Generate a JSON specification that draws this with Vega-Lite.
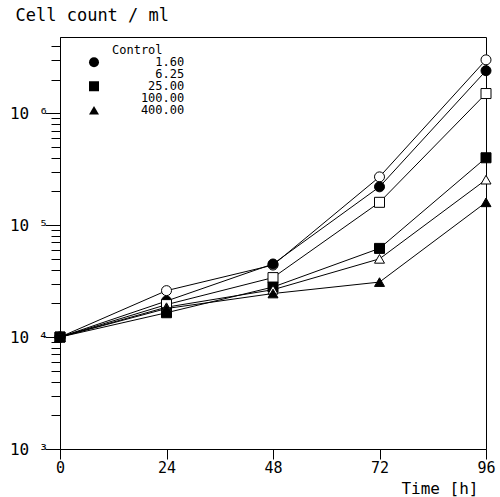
{
  "$schema": "https://vega.github.io/schema/vega-lite/v6.json",
  "width": 426,
  "height": 412,
  "autosize": {"type": "none"},
  "padding": {"left": 60, "top": 37, "right": 14, "bottom": 48},
  "background": "white",
  "config": {
    "view": {"stroke": "black", "strokeWidth": 1},
    "font": "DejaVu Sans Mono",
    "axis": {
      "domainColor": "black", "tickColor": "black", "labelColor": "black", "titleColor": "black",
      "grid": false, "labelFont": "DejaVu Sans Mono", "titleFont": "DejaVu Sans Mono",
      "titleFontWeight": "normal", "labelFontSize": 15, "titleFontSize": 16
    },
    "legend": {"labelFont": "DejaVu Sans Mono", "labelColor": "black", "symbolStrokeColor": "black", "symbolStrokeWidth": 1}
  },
  "data": {
    "values": [
      {"t": 0, "v": 10000, "s": "Control"},
      {"t": 24, "v": 26000, "s": "Control"},
      {"t": 48, "v": 44000, "s": "Control"},
      {"t": 72, "v": 270000, "s": "Control"},
      {"t": 96, "v": 3000000, "s": "Control"},
      {"t": 0, "v": 10000, "s": "1.60"},
      {"t": 24, "v": 21000, "s": "1.60"},
      {"t": 48, "v": 45000, "s": "1.60"},
      {"t": 72, "v": 220000, "s": "1.60"},
      {"t": 96, "v": 2400000, "s": "1.60"},
      {"t": 0, "v": 10000, "s": "6.25"},
      {"t": 24, "v": 19500, "s": "6.25"},
      {"t": 48, "v": 34000, "s": "6.25"},
      {"t": 72, "v": 160000, "s": "6.25"},
      {"t": 96, "v": 1500000, "s": "6.25"},
      {"t": 0, "v": 10000, "s": "25.00"},
      {"t": 24, "v": 16500, "s": "25.00"},
      {"t": 48, "v": 28000, "s": "25.00"},
      {"t": 72, "v": 62000, "s": "25.00"},
      {"t": 96, "v": 400000, "s": "25.00"},
      {"t": 0, "v": 10000, "s": "100.00"},
      {"t": 24, "v": 18500, "s": "100.00"},
      {"t": 48, "v": 26500, "s": "100.00"},
      {"t": 72, "v": 50000, "s": "100.00"},
      {"t": 96, "v": 255000, "s": "100.00"},
      {"t": 0, "v": 10000, "s": "400.00"},
      {"t": 24, "v": 18000, "s": "400.00"},
      {"t": 48, "v": 24500, "s": "400.00"},
      {"t": 72, "v": 31000, "s": "400.00"},
      {"t": 96, "v": 160000, "s": "400.00"}
    ]
  },
  "encoding": {
    "x": {
      "field": "t", "type": "quantitative",
      "scale": {"domain": [0, 96], "nice": false, "zero": false},
      "axis": {
        "values": [0, 24, 48, 72, 96], "tickSize": 10, "labelPadding": 1,
        "title": "Time [h]", "titleAlign": "right", "titleBaseline": "middle",
        "titleX": 418, "titleY": 39, "titleAnchor": null, "labelFlush": false
      }
    },
    "y": {
      "field": "v", "type": "quantitative",
      "scale": {"type": "log", "domain": [1000, 4800000], "nice": false},
      "axis": {
        "values": [1000, 2000, 3000, 4000, 5000, 6000, 7000, 8000, 9000, 10000, 20000, 30000, 40000, 50000, 60000, 70000, 80000, 90000, 100000, 200000, 300000, 400000, 500000, 600000, 700000, 800000, 900000, 1000000, 2000000, 3000000, 4000000],
        "labelExpr": "datum.value == 1000 ? '10 ³' : datum.value == 10000 ? '10 ⁴' : datum.value == 100000 ? '10 ⁵' : datum.value == 1000000 ? '10 ⁶' : ''",
        "tickSize": {"condition": {"test": "datum.value == 1000 || datum.value == 10000 || datum.value == 100000 || datum.value == 1000000", "value": 15}, "value": 9},
        "labelPadding": -3, "labelBaseline": "middle", "labelFlush": false, "labelOverlap": false, "labelFontSize": 16,
        "title": "Cell count / ml", "titleAngle": 0, "titleAlign": "left", "titleBaseline": "middle",
        "titleX": -45, "titleY": -22, "titleFontSize": 17
      }
    }
  },
  "layer": [
    {
      "mark": {"type": "line", "color": "black", "strokeWidth": 1},
      "encoding": {"detail": {"field": "s"}}
    },
    {
      "mark": {"type": "point", "filled": false, "stroke": "black", "strokeWidth": 1, "opacity": 1, "fillOpacity": 1},
      "encoding": {
        "shape": {
          "field": "s", "type": "nominal",
          "scale": {"domain": ["Control", "1.60", "6.25", "25.00", "100.00", "400.00"], "range": ["circle", "circle", "square", "square", "triangle-up", "triangle-up"]},
          "legend": {
            "title": null, "orient": "none", "legendX": 28, "legendY": 8, "padding": 0,
            "labelFontSize": 12, "labelOffset": 12, "rowPadding": -5, "clipHeight": 10.5,
            "labelExpr": "datum.label == '1.60' ? '\u200b\u00a0\u00a0\u00a0\u00a0\u00a0\u00a01.60' : datum.label == '6.25' ? '\u200b\u00a0\u00a0\u00a0\u00a0\u00a0\u00a06.25' : datum.label == '25.00' ? '\u200b\u00a0\u00a0\u00a0\u00a0\u00a025.00' : datum.label == '100.00' ? '\u200b\u00a0\u00a0\u00a0\u00a0100.00' : datum.label == '400.00' ? '\u200b\u00a0\u00a0\u00a0\u00a0400.00' : datum.label"
          }
        },
        "fill": {
          "field": "s", "type": "nominal",
          "scale": {"domain": ["Control", "1.60", "6.25", "25.00", "100.00", "400.00"], "range": ["white", "black", "white", "black", "white", "black"]},
          "legend": {
            "title": null, "orient": "none", "legendX": 28, "legendY": 8, "padding": 0,
            "labelFontSize": 12, "labelOffset": 12, "rowPadding": -5, "clipHeight": 10.5,
            "labelExpr": "datum.label == '1.60' ? '\u200b\u00a0\u00a0\u00a0\u00a0\u00a0\u00a01.60' : datum.label == '6.25' ? '\u200b\u00a0\u00a0\u00a0\u00a0\u00a0\u00a06.25' : datum.label == '25.00' ? '\u200b\u00a0\u00a0\u00a0\u00a0\u00a025.00' : datum.label == '100.00' ? '\u200b\u00a0\u00a0\u00a0\u00a0100.00' : datum.label == '400.00' ? '\u200b\u00a0\u00a0\u00a0\u00a0400.00' : datum.label"
          }
        },
        "size": {
          "field": "s", "type": "nominal",
          "scale": {"domain": ["Control", "1.60", "6.25", "25.00", "100.00", "400.00"], "range": [100, 100, 49, 70, 70, 70]},
          "legend": {
            "title": null, "orient": "none", "legendX": 28, "legendY": 8, "padding": 0,
            "labelFontSize": 12, "labelOffset": 12, "rowPadding": -5, "clipHeight": 10.5,
            "labelExpr": "datum.label == '1.60' ? '\u200b\u00a0\u00a0\u00a0\u00a0\u00a0\u00a01.60' : datum.label == '6.25' ? '\u200b\u00a0\u00a0\u00a0\u00a0\u00a0\u00a06.25' : datum.label == '25.00' ? '\u200b\u00a0\u00a0\u00a0\u00a0\u00a025.00' : datum.label == '100.00' ? '\u200b\u00a0\u00a0\u00a0\u00a0100.00' : datum.label == '400.00' ? '\u200b\u00a0\u00a0\u00a0\u00a0400.00' : datum.label"
          }
        }
      }
    }
  ]
}
